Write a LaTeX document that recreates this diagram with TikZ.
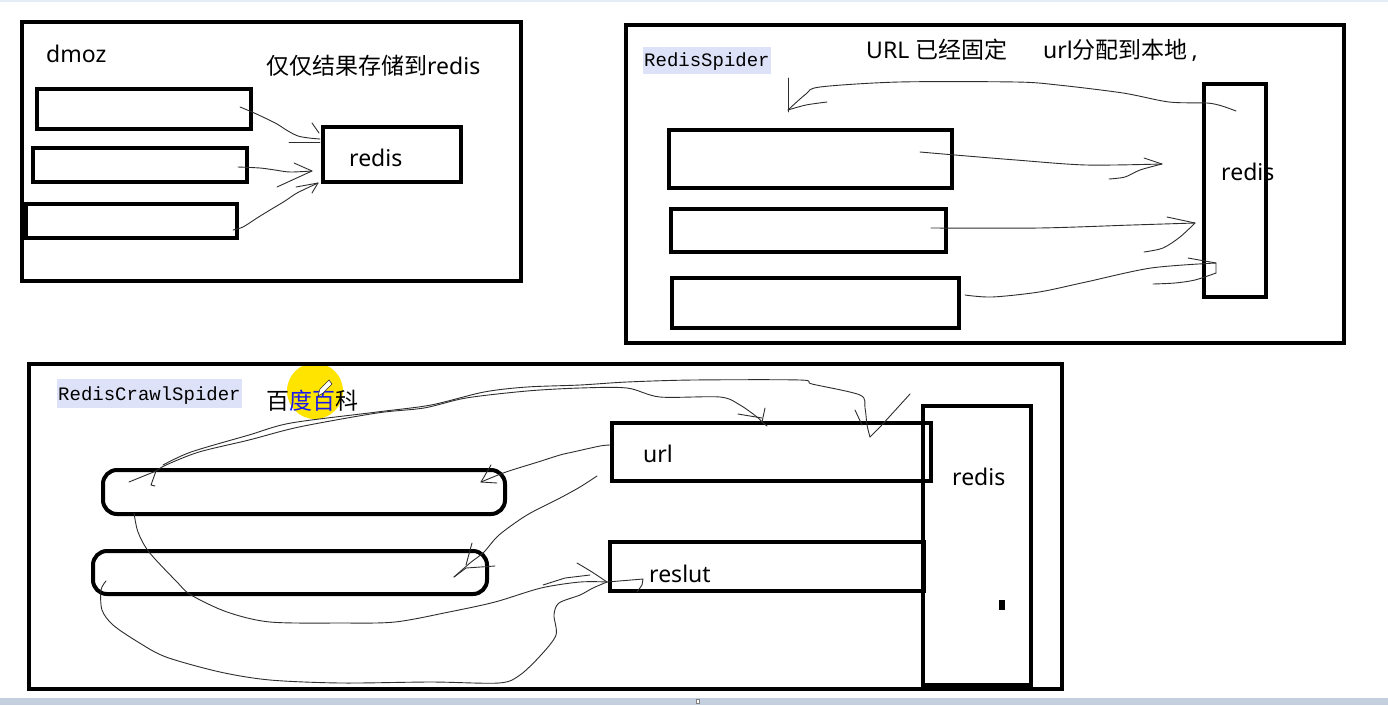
\documentclass[tikz,border=0pt]{standalone}
\usepackage{fontspec}
\newfontfamily\cjk{Noto Sans CJK SC}
\newfontfamily\lat{Noto Sans}
\newfontfamily\monof{Liberation Mono}
\definecolor{hl}{RGB}{222,226,248}
\definecolor{ink}{RGB}{45,45,45}
\definecolor{strip}{RGB}{196,207,224}
\definecolor{topstrip}{RGB}{228,236,246}
\definecolor{hiy}{RGB}{255,228,0}
\definecolor{blu}{RGB}{25,25,235}
\begin{document}
\begin{tikzpicture}[x=1pt,y=-1pt,
  box/.style={draw=black, line width=4pt, rectangle, inner sep=0pt, anchor=north west},
  bar/.style={box, rounded corners=14pt},
  txt/.style={font=\lat\fontsize{23}{27}\selectfont, inner sep=0pt, anchor=base west},
  mono/.style={font=\monof\fontsize{19}{22}\selectfont, fill=hl, inner xsep=1pt, inner ysep=2pt, text height=17pt, text depth=6pt, anchor=base west},
  pen/.style={draw=ink, line width=0.9pt, line join=round, line cap=round},
]
\useasboundingbox (0,0) rectangle (1388,705);
\fill[white] (0,0) rectangle (1388,705);
\fill[topstrip] (0,0) rectangle (1388,2);
\fill[strip] (0,698) rectangle (1388,705);
\draw[gray, fill=white, line width=0.5pt] (696,699) rectangle (699,703);

% ---------------- Panel 1 ----------------
\node[box, minimum width=499pt, minimum height=259pt] (f1) at (20,20) {};
\node[box, minimum width=214pt, minimum height=40pt] (p1a) at (35,87) {};
\node[box, minimum width=214pt, minimum height=34pt] (p1b) at (31,146) {};
\node[box, minimum width=211pt, minimum height=34pt] (p1c) at (24,202) {};
\node[box, minimum width=138pt, minimum height=55pt] (p1r) at (321,125) {};
\node[txt] (p1rt) at (349,166.5) {redis};
\node[txt] (dmoz) at (46,62) {dmoz};
\node[txt] (p1title) at (266,74) {{\cjk 仅仅结果存储到}redis};

\coordinate (a1s) at (240,107); \coordinate (a1e) at (320,139);
\draw[pen] plot[smooth] coordinates {(a1s) (252,112) (265,118) (277,124) (288,131) (298,136) (309,138) (a1e)};
\draw[pen] (312,123) -- (319,133);
\draw[pen] (289,142) -- (320,142);
\coordinate (a2s) at (238,167); \coordinate (a2e) at (312,171);
\draw[pen] plot[smooth] coordinates {(a2s) (260,168) (275,170) (290,172) (a2e)};
\draw[pen] (294,163) -- (a2e) -- (277,187);
\coordinate (a3s) at (233,230); \coordinate (a3e) at (318,183);
\draw[pen] plot[smooth] coordinates {(a3s) (243,227) (257,218) (270,210) (285,201) (297,193) (a3e)};
\draw[pen] (296,187) -- (a3e) -- (312,193);

% ---------------- Panel 2 ----------------
\node[box, minimum width=718pt, minimum height=318pt] (f2) at (624,23) {};
\node[box, minimum width=283pt, minimum height=58pt] (p2a) at (667,128) {};
\node[box, minimum width=275pt, minimum height=43pt] (p2b) at (669,207) {};
\node[box, minimum width=287pt, minimum height=50pt] (p2c) at (670,276) {};
\node[box, minimum width=62pt, minimum height=213pt] (p2r) at (1202,82) {};
\node[txt] (p2rt) at (1221,180) {redis};
\node[mono] (rs) at (643,66) {RedisSpider};
\node[txt] (p2t1) at (866,58) {URL {\cjk 已经固定}};
\node[txt] (p2t2) at (1043,58) {url{\cjk 分配到本地}\,,};

\coordinate (b0s) at (1236,111); \coordinate (b0e) at (788,110);
\draw[pen] plot[smooth] coordinates {(b0s) (1222,106) (1207,103) (1169,102) (1123,93) (1058,85) (1016,82) (899,82) (820,87) (806,94) (b0e)};
\draw[pen] (788,78) -- (788,112);
\draw[pen] plot[smooth] coordinates {(b0e) (806,105) (827,102)};
\coordinate (b1s) at (920,152); \coordinate (b1e) at (1162,164);
\draw[pen] plot[smooth] coordinates {(b1s) (955,155) (1016,160) (1086,165) (b1e)};
\draw[pen] (1144,158) -- (b1e);
\draw[pen] plot[smooth] coordinates {(b1e) (1140,170) (1125,177) (1109,179)};
\coordinate (b2s) at (931,228); \coordinate (b2e) at (1195,223);
\draw[pen] plot[smooth] coordinates {(b2s) (1039,228) (1132,225) (b2e)};
\draw[pen] (1167,217) -- (b2e);
\draw[pen] plot[smooth] coordinates {(b2e) (1180,237) (1163,248) (1144,252)};
\coordinate (b3s) at (965,295); \coordinate (b3e) at (1216,263);
\draw[pen] plot[smooth] coordinates {(b3s) (992,297) (1039,292) (1086,282) (1151,268) (b3e)};
\draw[pen] (1188,258) -- (b3e) -- (1216,273);
\draw[pen] plot[smooth] coordinates {(1216,273) (1195,280) (1175,283) (1153,284)};

% ---------------- Panel 3 ----------------
\fill[hiy] (315,391) circle[radius=28pt];
\node[box, minimum width=1033pt, minimum height=325pt] (f3) at (27,362) {};
\node[bar, minimum width=402pt, minimum height=44pt] (bar1) at (101,468) {};
\node[bar, minimum width=394pt, minimum height=43pt] (bar2) at (91,549) {};
\node[box, minimum width=319pt, minimum height=58pt] (url) at (610,421) {};
\node[box, minimum width=314pt, minimum height=49pt] (res) at (608,540) {};
\node[box, minimum width=108pt, minimum height=279pt] (p3r) at (921,404) {};
\fill (999,600) rectangle (1005,610);
\node[txt] (urlt) at (643,462) {url};
\node[txt] (p3rt) at (952,485) {redis};
\node[txt] (rest) at (649,582) {reslut};
\node[mono, text height=19pt] (rcs) at (57,400) {RedisCrawlSpider};
\node[txt] (bk) at (266,409) {\cjk 百{\color{blu}度百}科};
\draw[ink, fill=white, line width=0.6pt] (318,396) -- (320,389) -- (329,380) -- (332,384) -- (323,393) -- cycle;

% C1
\coordinate (c1s) at (163,465); \coordinate (c1e) at (870,437);
\draw[pen] plot[smooth] coordinates {(c1s) (191,452) (249,435) (291,423) (377,412) (431,405) (484,392) (527,387) (580,385) (627,382) (693,380) (800,380) (812,384) (860,395) (865,408) (867,425) (c1e)};
\draw[pen] (c1e) -- (880,427) -- (910,394);
\draw[pen] (855,410) -- (862,425);
% C2
\coordinate (c2s) at (156,471); \coordinate (c2e) at (762,422);
\draw[pen] plot[smooth] coordinates {(c2s) (166,465) (199,452) (249,440) (299,427) (377,413) (424,408) (466,398) (527,391) (580,388) (627,388) (660,397) (720,397) (740,405) (757,417) (c2e)};
\draw[pen] (738,414) -- (762,418);
\draw[pen] (765,408) -- (c2e) -- (767,426);
\draw[pen] (129,482) -- (c2s) -- (151,485) -- (155,486);
% C3
\coordinate (c3s) at (610,445); \coordinate (c3e) at (481,482);
\draw[pen] plot[smooth] coordinates {(c3s) (600,446) (573,452) (560,455) (538,462) (506,472) (c3e)};
\draw[pen] (491,465) -- (c3e) -- (497,483);
% C4
\coordinate (c4s) at (597,476); \coordinate (c4e) at (454,577);
\draw[pen] plot[smooth] coordinates {(c4s) (580,487) (560,498) (527,515) (499,535) (484,552) (470,563) (c4e)};
\draw[pen] (472,543) -- (466,565);
\draw[pen] (c4e) -- (466,568) -- (495,566);
% C5
\coordinate (c5s) at (134,513); \coordinate (c5e) at (607,582);
\draw[pen] plot[smooth] coordinates {(c5s) (138,532) (149,552) (177,582) (191,595) (227,612) (270,622) (341,623) (395,622) (449,612) (495,602) (541,588) (580,582) (c5e)};
\draw[pen] (c5e) -- (643,579) -- (642,585) -- (637,592);
% C6
\coordinate (c6s) at (106,581); \coordinate (c6e) at (607,582);
\draw[pen] plot[smooth] coordinates {(c6s) (101,590) (102,610) (113,625) (138,642) (166,657) (220,672) (270,680) (341,683) (431,682) (499,683) (520,675) (541,655) (556,635) (554,615) (559,603) (580,595) (593,588) (c6e)};
\draw[pen] plot[smooth] coordinates {(577,563) (592,572) (c6e)};
\draw[pen] (543,585) -- (565,578) -- (590,575);
\end{tikzpicture}
\end{document}
